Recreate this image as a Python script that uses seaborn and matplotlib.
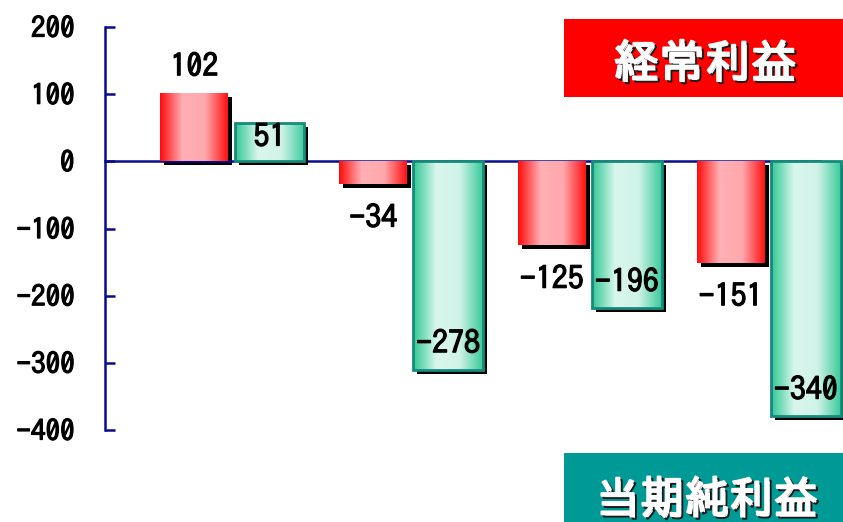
import numpy as np
import pandas as pd
import matplotlib
matplotlib.use("Agg")
import matplotlib.pyplot as plt
import matplotlib.patheffects as pe
from matplotlib.colors import LinearSegmentedColormap
from matplotlib.patches import Rectangle
from matplotlib.transforms import ScaledTranslation
import seaborn as sns

# ---- data ----
groups = [0, 1, 2, 3]
keijo = [102, -34, -125, -151]          # 経常利益
junri = [51, -278, -196, -340]          # 当期純利益
yticks = [-400, -300, -200, -100, 0, 100, 200]
label_keijo = "経常利益"
label_junri = "当期純利益"

sns.set_style("white")
FAM = ["IPAGothic", "Noto Sans CJK JP", "DejaVu Sans"]
plt.rcParams["font.family"] = FAM
plt.rcParams["axes.unicode_minus"] = False
plt.rcParams["text.color"] = "black"
plt.rcParams["ytick.color"] = "black"

fig = plt.figure(figsize=(8.43, 5.22), dpi=100)
ax = fig.add_axes([105 / 843, 92 / 522, (820 - 105) / 843, (430 - 27) / 522])
ax2 = ax.twinx()

green_offset = 0.42
df_r = pd.DataFrame({"pos": [g for g in groups], "val": keijo})
df_g = pd.DataFrame({"pos": [g + green_offset for g in groups], "val": junri})

sns.barplot(data=df_r, x="pos", y="val", native_scale=True, width=0.38,
            color="#ff0000", errorbar=None, ax=ax, zorder=4, edgecolor="none")
sns.barplot(data=df_g, x="pos", y="val", native_scale=True, width=0.39,
            color="#40d0a0", errorbar=None, ax=ax2, zorder=4,
            edgecolor="#168a7c", linewidth=2)

cm_r = LinearSegmentedColormap.from_list("r", ["#ff0a0a", "#ffb0b5", "#ffa8ad", "#ff1010"])
cm_g = LinearSegmentedColormap.from_list("g", ["#2fc794", "#d9f6ed", "#d0f3e8", "#3acb9b"])
grad = np.linspace(0, 1, 256).reshape(1, -1)
shadow_off = ScaledTranslation(4 / 100, -4 / 100, fig.dpi_scale_trans)


def decorate(a, cmap):
    bars = [p for p in a.patches if isinstance(p, Rectangle)]
    for p in bars:
        x, y, w, h = p.get_x(), p.get_y(), p.get_width(), p.get_height()
        y0, y1 = min(y, y + h), max(y, y + h)
        sh = Rectangle((x, y0), w, y1 - y0, facecolor="black", edgecolor="none",
                       transform=a.transData + shadow_off, zorder=2.5, clip_on=False)
        a.add_patch(sh)
        im = a.imshow(grad, cmap=cmap, aspect="auto", extent=(x, x + w, y0, y1),
                      zorder=3, interpolation="bilinear")
        im.set_clip_path(p)
        p.set_facecolor("none")
        p.set_clip_on(False)
    return bars


decorate(ax, cm_r)
decorate(ax2, cm_g)

ylim = (-400, 200)
ratio = 0.896
ax.set_xlim(-0.5, 3.5)
ax.set_ylim(*ylim)
ax2.set_ylim(ylim[0] * ratio, ylim[1] * ratio)
ax2.set_xlim(-0.5, 3.5)

# axes styling
navy = "#0a0a8c"
for s in ["top", "right"]:
    ax.spines[s].set_visible(False)
for s in ax2.spines.values():
    s.set_visible(False)
ax2.set_yticks([])
ax2.set_xlabel("")
ax2.set_ylabel("")
ax.spines["left"].set_color(navy)
ax.spines["left"].set_linewidth(1.8)
ax.spines["bottom"].set_position(("data", 0))
ax.spines["bottom"].set_color(navy)
ax.spines["bottom"].set_linewidth(1.8)
ax.spines["bottom"].set_zorder(2.6)
ax.set_yticks(yticks)
ax.set_yticklabels([str(v) for v in yticks])
ax.set_xticks([1.5, 2.5, 3.5])
ax.set_xticklabels([])
ax.set_xlabel("")
ax.set_ylabel("")
ax.tick_params(axis="y", direction="in", length=7, width=1.8, color=navy,
               labelsize=21, pad=22, labelcolor="black")
ax.tick_params(axis="x", direction="in", length=6, width=1.5, color=navy)
bold = [pe.withStroke(linewidth=0.9, foreground="black")]
for t in ax.get_yticklabels():
    t.set_path_effects(bold)

# value labels
for g, v in zip(groups, keijo):
    off = 27 if v > 0 else -33
    ax.annotate(str(v), (g, v), xytext=(0, off),
                textcoords="offset pixels", ha="center", va="center",
                fontsize=23, color="black", zorder=6, path_effects=bold)
for g, v in zip(groups, junri):
    off = -13 if v > 0 else 27
    ax2.annotate(str(v), (g + green_offset, v), xytext=(0, off),
                 textcoords="offset pixels", ha="center", va="center",
                 fontsize=23, color="black", zorder=6, path_effects=bold)

# legend boxes
fig.patches.append(Rectangle((564 / 843, 1 - 97 / 522), 279 / 843, 78 / 522,
                             transform=fig.transFigure, facecolor="#ff0000",
                             edgecolor="none", zorder=5))
fig.patches.append(Rectangle((564 / 843, 0), 279 / 843, 69 / 522,
                             transform=fig.transFigure, facecolor="#009a96",
                             edgecolor="none", zorder=5))
wshadow = [pe.Stroke(linewidth=1.4, foreground="#1a1a1a", offset=(1.6, -1.6)),
           pe.Stroke(linewidth=1.4, foreground="white"), pe.Normal()]
fig.text(705 / 843, 1 - 61 / 522, label_keijo, ha="center", va="center", color="white",
         fontsize=33, path_effects=wshadow, zorder=6)
fig.text(707 / 843, 1 - 497 / 522, label_junri, ha="center", va="center", color="white",
         fontsize=32, path_effects=wshadow, zorder=6)

fig.savefig("out.png", dpi=100)
